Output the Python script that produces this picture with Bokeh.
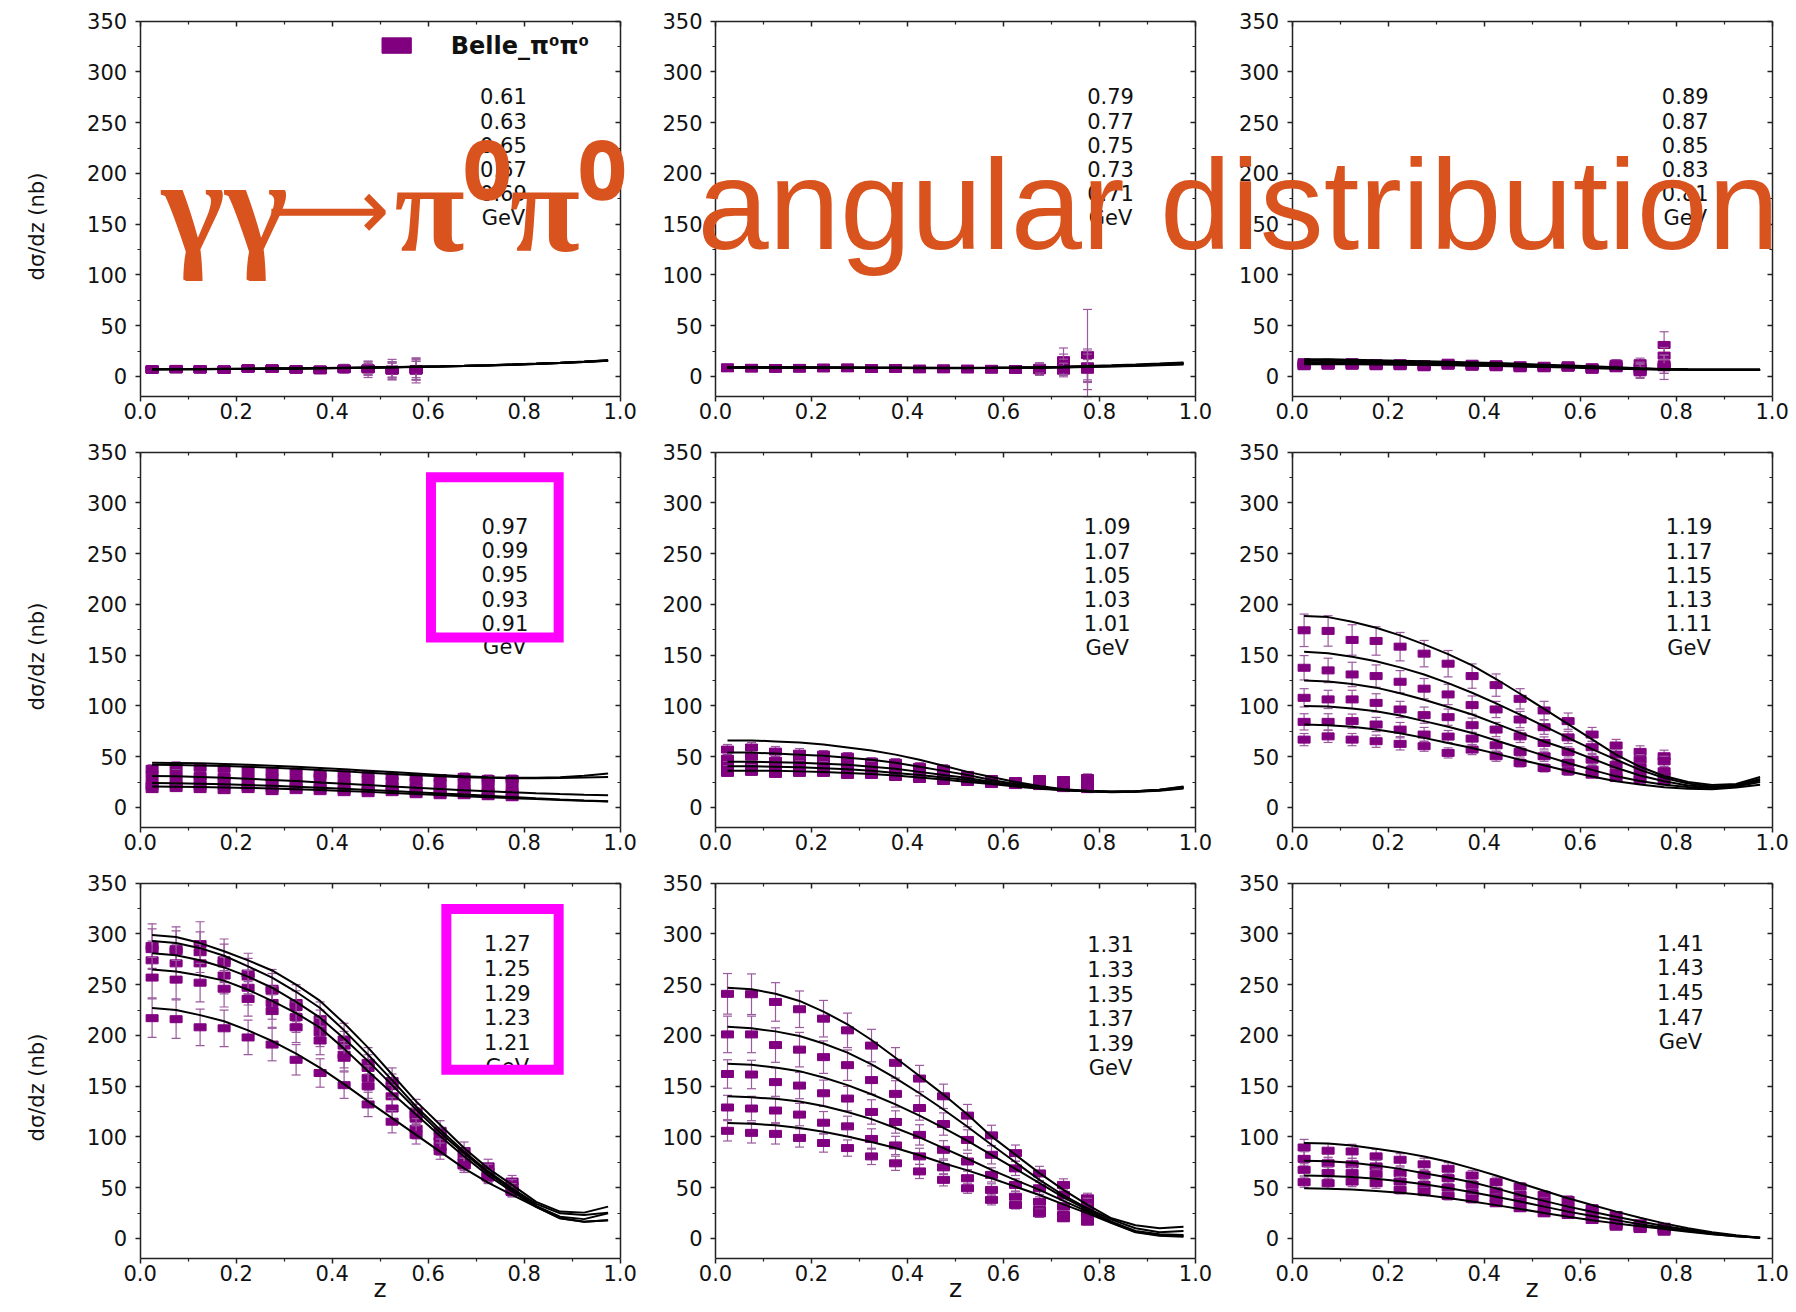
import math
import numpy as np
from bokeh.plotting import figure
from bokeh.models import Range1d, LinearAxis, FixedTicker, PrintfTickFormatter, Label
from bokeh.embed import file_html
from bokeh.resources import INLINE
from bokeh.core.properties import value

# ---------------------------------------------------------------- data
Z_DATA = [0.025, 0.075, 0.125, 0.175, 0.225, 0.275, 0.325, 0.375,
          0.425, 0.475, 0.525, 0.575, 0.625, 0.675, 0.725, 0.775]
Z_CURVE = [0.025, 0.075, 0.125, 0.175, 0.225, 0.275, 0.325, 0.375, 0.425, 0.475,
           0.525, 0.575, 0.625, 0.675, 0.725, 0.775, 0.825, 0.875, 0.925, 0.975]
X_TICKS = [0.0, 0.2, 0.4, 0.6, 0.8, 1.0]
X_MINOR = [0.1, 0.3, 0.5, 0.7, 0.9]
Y_TICKS = [0, 50, 100, 150, 200, 250, 300, 350]
Y_MINOR = [25, 75, 125, 175, 225, 275, 325]

P1_LABELS = ["0.61", "0.63", "0.65", "0.67", "0.69", "GeV"]
P2_LABELS = ["0.79", "0.77", "0.75", "0.73", "0.71", "GeV"]
P3_LABELS = ["0.89", "0.87", "0.85", "0.83", "0.81", "GeV"]
P4_LABELS = ["0.97", "0.99", "0.95", "0.93", "0.91", "GeV"]
P5_LABELS = ["1.09", "1.07", "1.05", "1.03", "1.01", "GeV"]
P6_LABELS = ["1.19", "1.17", "1.15", "1.13", "1.11", "GeV"]
P7_LABELS = ["1.27", "1.25", "1.29", "1.23", "1.21", "GeV"]
P8_LABELS = ["1.31", "1.33", "1.35", "1.37", "1.39", "GeV"]
P9_LABELS = ["1.41", "1.43", "1.45", "1.47", "GeV"]

# ---- panel 1 (0.61-0.69 GeV)
P1_DATA = [
    [6.6, 7.2, 6.9, 6.3, 7.9, 7.6, 6.6, 5.9, 7.2, 6.9, 5.6, 5.6],
    [6.9, 7.0, 7.1, 6.8, 7.5, 7.8, 7.0, 6.4, 7.6, 7.4, 6.2, 6.5],
    [7.2, 7.4, 7.3, 7.0, 8.1, 8.0, 7.2, 6.9, 7.9, 8.0, 6.8, 7.3],
    [6.4, 6.9, 6.7, 6.5, 7.7, 7.3, 6.8, 6.2, 7.0, 7.2, 5.9, 6.0],
    [7.0, 7.3, 7.0, 6.6, 7.8, 7.5, 6.9, 6.5, 7.4, 7.6, 6.4, 6.8],
]
P1_ERR = [
    [1, 1, 1, 1, 1.5, 1.5, 2, 2, 4, 8, 9, 12],
    [1, 1, 1, 1, 1.5, 1.5, 2, 2, 3, 6, 8, 10],
    [1, 1, 1, 1, 1.5, 1.5, 2, 3, 4, 7, 10, 11],
    [1, 1, 1, 1, 1.5, 1.5, 2, 2, 3, 5, 7, 9],
    [1, 1, 1, 1, 1.5, 1.5, 2, 2, 3, 5, 7, 8],
]
P1_CURVES = [
    [7.0, 7.1, 7.2, 7.3, 7.5, 7.7, 7.9, 8.1, 8.4, 8.7, 9.0, 9.4, 9.8, 10.3, 10.9, 11.6, 12.4, 13.3, 14.4, 15.6],
    [7.2, 7.3, 7.4, 7.5, 7.6, 7.8, 8.0, 8.2, 8.5, 8.8, 9.2, 9.6, 10.0, 10.5, 11.1, 11.8, 12.6, 13.5, 14.6, 15.9],
    [6.9, 7.0, 7.1, 7.2, 7.4, 7.6, 7.8, 8.0, 8.3, 8.6, 8.9, 9.3, 9.7, 10.2, 10.8, 11.4, 12.2, 13.1, 14.2, 15.4],
    [7.1, 7.2, 7.3, 7.4, 7.5, 7.7, 7.9, 8.2, 8.4, 8.7, 9.1, 9.5, 9.9, 10.4, 11.0, 11.7, 12.5, 13.4, 14.5, 15.8],
    [7.0, 7.0, 7.1, 7.3, 7.4, 7.6, 7.8, 8.1, 8.3, 8.6, 9.0, 9.3, 9.7, 10.2, 10.8, 11.5, 12.3, 13.2, 14.3, 15.5],
]

# ---- panel 2 (0.71-0.79 GeV)
P2_DATA = [
    [8.6, 8.2, 8.0, 8.2, 8.4, 8.5, 7.9, 8.0, 7.4, 7.6, 7.4, 7.2, 7.0, 8.5, 16.0, 21.0],
    [8.2, 8.0, 7.8, 7.9, 8.1, 8.2, 7.6, 7.7, 7.2, 7.2, 7.1, 6.9, 6.8, 6.0, 5.6, 7.0],
    [8.9, 8.5, 8.3, 8.4, 8.7, 8.8, 8.1, 8.3, 7.7, 7.9, 7.7, 7.5, 7.3, 7.5, 9.0, 10.0],
    [8.0, 7.8, 7.6, 7.7, 7.9, 8.0, 7.4, 7.5, 7.0, 7.0, 6.9, 6.7, 6.5, 7.0, 12.0, 8.0],
    [8.4, 8.1, 7.9, 8.0, 8.3, 8.4, 7.8, 7.9, 7.3, 7.4, 7.2, 7.1, 6.9, 7.8, 7.0, 6.6],
]
P2_ERR = [
    [1, 1, 1, 1, 1, 1, 1, 1, 1, 1, 1, 1, 2, 5, 12, 45],
    [1, 1, 1, 1, 1, 1, 1, 1, 1, 1, 1, 1, 2, 4, 6, 20],
    [1, 1, 1, 1, 1, 1, 1, 1, 1, 1, 1, 1, 2, 4, 8, 15],
    [1, 1, 1, 1, 1, 1, 1, 1, 1, 1, 1, 1, 2, 6, 10, 14],
    [1, 1, 1, 1, 1, 1, 1, 1, 1, 1, 1, 1, 2, 4, 6, 10],
]
P2_CURVES = [
    [9.2, 9.2, 9.1, 9.1, 9.0, 8.9, 8.8, 8.7, 8.6, 8.6, 8.6, 8.7, 8.9, 9.2, 9.6, 10.2, 10.9, 11.7, 12.7, 13.8],
    [9.0, 9.0, 8.9, 8.9, 8.8, 8.7, 8.6, 8.5, 8.5, 8.4, 8.4, 8.5, 8.7, 9.0, 9.4, 9.9, 10.5, 11.3, 12.2, 13.2],
    [8.8, 8.8, 8.7, 8.7, 8.6, 8.5, 8.4, 8.4, 8.3, 8.3, 8.3, 8.4, 8.5, 8.8, 9.2, 9.7, 10.3, 11.0, 11.8, 12.7],
    [8.6, 8.6, 8.6, 8.5, 8.5, 8.4, 8.3, 8.3, 8.2, 8.2, 8.2, 8.3, 8.4, 8.6, 9.0, 9.4, 10.0, 10.6, 11.4, 12.2],
    [8.5, 8.5, 8.4, 8.4, 8.3, 8.3, 8.2, 8.2, 8.1, 8.1, 8.1, 8.2, 8.3, 8.5, 8.8, 9.2, 9.7, 10.3, 11.0, 11.8],
]

# ---- panel 3 (0.81-0.89 GeV)
P3_DATA = [
    [14.0, 13.5, 14.0, 13.0, 13.0, 12.0, 13.5, 12.5, 12.0, 11.0, 10.5, 11.0, 9.0, 12.5, 13.0, 31.0],
    [12.5, 12.5, 13.0, 12.0, 12.0, 11.0, 12.5, 11.5, 11.0, 10.0, 9.5, 10.0, 8.0, 11.0, 9.0, 20.5],
    [11.5, 11.5, 12.0, 11.0, 11.0, 10.0, 11.5, 10.5, 10.0, 9.0, 9.0, 9.5, 7.5, 9.5, 7.0, 10.0],
    [10.5, 11.0, 11.0, 10.5, 10.5, 9.5, 11.0, 10.0, 9.5, 8.5, 8.5, 9.0, 7.0, 8.5, 5.0, 12.0],
    [10.0, 10.5, 10.5, 10.0, 10.0, 9.0, 10.5, 9.5, 9.0, 8.0, 8.0, 8.5, 6.5, 8.0, 4.0, 9.0],
]
P3_ERR = [
    [2, 2, 2, 2, 2, 2, 2, 2, 2, 2, 2, 2, 3, 4, 5, 13],
    [2, 2, 2, 2, 2, 2, 2, 2, 2, 2, 2, 2, 2, 3, 5, 8],
    [2, 2, 2, 2, 2, 2, 2, 2, 2, 2, 2, 2, 2, 3, 6, 7],
    [2, 2, 2, 2, 2, 2, 2, 2, 2, 2, 2, 2, 2, 3, 7, 9],
    [2, 2, 2, 2, 2, 2, 2, 2, 2, 2, 2, 2, 2, 3, 5, 12],
]
P3_CURVES = [
    [17.0, 16.8, 16.5, 16.0, 15.5, 15.0, 14.4, 13.8, 13.1, 12.4, 11.6, 10.8, 10.0, 9.0, 8.0, 7.2, 6.8, 6.6, 6.5, 6.5],
    [15.5, 15.4, 15.1, 14.7, 14.3, 13.8, 13.3, 12.7, 12.1, 11.5, 10.8, 10.1, 9.4, 8.6, 7.8, 7.1, 6.8, 6.6, 6.5, 6.5],
    [14.0, 13.9, 13.7, 13.4, 13.0, 12.6, 12.2, 11.7, 11.2, 10.7, 10.1, 9.5, 8.9, 8.2, 7.6, 7.0, 6.7, 6.6, 6.5, 6.5],
    [13.0, 12.9, 12.8, 12.5, 12.2, 11.9, 11.5, 11.1, 10.7, 10.2, 9.7, 9.2, 8.6, 8.0, 7.4, 6.9, 6.7, 6.6, 6.5, 6.5],
    [12.0, 12.0, 11.9, 11.8, 11.6, 11.3, 11.0, 10.6, 10.2, 9.7, 9.2, 8.7, 8.1, 7.5, 7.0, 6.7, 6.6, 6.5, 6.5, 6.5],
]

# ---- panel 4 (0.91-0.99 GeV)
P4_DATA = [
    [38, 40, 39, 38, 37, 35, 35, 33, 34, 33, 31, 30, 29, 30, 28, 28],
    [32, 33, 31, 30, 30, 29, 28, 30, 28, 27, 26, 25, 24, 24, 26, 25],
    [25, 26, 26, 25, 24, 24, 23, 22, 22, 20, 20, 19, 18, 18, 20, 18],
    [21, 22, 21, 21, 20, 19, 20, 19, 17, 17, 17, 15, 14, 16, 15, 14],
    [18, 19, 18, 17, 18, 16, 17, 16, 15, 14, 15, 13, 12, 12, 11, 10],
]
P4_ERR = [
    [4, 5, 4, 4, 4, 4, 4, 3, 3, 3, 3, 3, 3, 4, 4, 4],
    [3, 4, 3, 3, 3, 3, 3, 3, 3, 3, 3, 3, 3, 3, 4, 4],
    [3, 3, 3, 3, 3, 3, 3, 3, 3, 3, 3, 3, 3, 3, 3, 3],
    [3, 3, 3, 3, 3, 3, 3, 3, 3, 3, 2, 2, 2, 3, 3, 3],
    [3, 3, 3, 3, 3, 3, 2, 2, 2, 2, 2, 2, 2, 2, 3, 3],
]
P4_CURVES = [
    [44, 43.8, 43.4, 42.8, 42, 41, 40, 38.8, 37.5, 36.2, 34.8, 33.4, 32, 30.8, 29.8, 29.2, 29.2, 29.8, 31.2, 33.4],
    [42, 41.8, 41.4, 40.8, 40, 39, 38, 36.8, 35.5, 34.2, 32.9, 31.7, 30.6, 29.7, 29.1, 28.8, 28.8, 29, 29.4, 30],
    [31, 30.6, 30, 29.2, 28.2, 27.1, 25.9, 24.6, 23.3, 22, 20.7, 19.4, 18.2, 17, 15.9, 14.9, 14, 13.2, 12.5, 12],
    [24, 23.8, 23.4, 22.8, 22.1, 21.3, 20.4, 19.4, 18.3, 17.2, 16.1, 15, 13.8, 12.6, 11.4, 10.2, 9, 7.9, 6.9, 6],
    [20.5, 20.4, 20.1, 19.7, 19.2, 18.6, 17.9, 17.1, 16.2, 15.3, 14.3, 13.3, 12.2, 11.1, 10.1, 9.1, 8.2, 7.3, 6.5, 5.8],
]

# ---- panel 5 (1.01-1.09 GeV)
P5_DATA = [
    [57, 59, 55, 53, 52, 50, 45, 44, 40, 38, 32, 28, 26, 28, 27, 29],
    [48, 50, 46, 47, 46, 44, 41, 40, 37, 35, 30, 26, 25, 26, 25, 26],
    [41, 42, 41, 42, 41, 40, 37, 36, 34, 31, 28, 25, 24, 24, 23, 23],
    [37, 38, 36, 38, 37, 35, 34, 32, 30, 28, 27, 24, 23, 22, 21, 20],
    [34, 35, 33, 34, 34, 32, 32, 30, 28, 26, 25, 23, 22, 21, 19, 18],
]
P5_ERR = [
    [5, 5, 5, 5, 4, 4, 4, 4, 4, 4, 3, 3, 3, 3, 3, 4],
    [4, 4, 4, 4, 4, 4, 4, 3, 3, 3, 3, 3, 3, 3, 3, 3],
    [4, 4, 4, 4, 4, 3, 3, 3, 3, 3, 3, 3, 3, 3, 3, 3],
    [4, 4, 3, 3, 3, 3, 3, 3, 3, 3, 3, 2, 2, 2, 2, 2],
    [3, 3, 3, 3, 3, 3, 3, 3, 3, 3, 2, 2, 2, 2, 2, 2],
]
P5_CURVES = [
    [66, 66, 65, 64, 62, 59, 56, 52, 47, 41, 35, 30, 25, 21, 18, 16.5, 15.5, 16, 17.5, 20.5],
    [54, 54, 53, 52, 51, 49, 47, 44, 40, 36, 32, 27, 23, 20, 17.5, 16, 15.5, 16, 17.5, 20],
    [45, 45, 44.5, 44, 43, 42, 40, 38, 35, 32, 29, 25, 22, 19.5, 17.5, 16, 15.5, 16, 17, 19.5],
    [40.5, 40.5, 40, 39.5, 38.5, 37.5, 36, 34, 32, 29.5, 27, 24, 21, 19, 17, 16, 15.5, 15.5, 17, 19],
    [36, 36, 36, 35.5, 35, 34, 33, 31.5, 29.5, 27.5, 25, 23, 20.5, 18.5, 17, 16, 15, 15.5, 16.5, 18.5],
]

# ---- panel 6 (1.11-1.19 GeV)
P6_DATA = [
    [174.5, 173.9, 165, 164, 158.4, 151.5, 141.6, 129.4, 120.5, 107, 95.5, 85, 71.8, 61, 54.7, 50.4],
    [137.6, 135, 131, 129.4, 123.8, 117, 111.3, 100.8, 96.5, 86.6, 79, 69, 59.3, 52, 47, 45.4],
    [108, 106.4, 106.4, 103, 96.5, 90.9, 88.9, 81, 76.7, 70, 63.5, 54.7, 47, 42, 39.5, 35.6],
    [84.3, 84.3, 85, 81.7, 76.7, 71.8, 69.8, 67.8, 61.2, 54.7, 50.4, 43.8, 37.2, 34, 32.3, 30.6],
    [66.8, 70, 66.8, 65.2, 62.6, 60.3, 53.7, 57, 50.4, 43.8, 38.9, 35.6, 32.3, 29, 27.3, 25.7],
]
P6_ERR = [
    [16, 15, 15, 14, 14, 13, 13, 12, 11, 10, 9, 8, 7, 6, 6, 6],
    [12, 12, 12, 11, 11, 10, 10, 9, 8, 8, 7, 6, 6, 5, 5, 5],
    [9, 9, 9, 9, 8, 8, 8, 7, 7, 6, 6, 5, 5, 4, 4, 4],
    [8, 8, 7, 7, 7, 7, 6, 6, 6, 5, 5, 4, 4, 4, 3, 3],
    [6, 6, 6, 6, 6, 5, 5, 5, 5, 4, 4, 4, 3, 3, 3, 3],
]
P6_CURVES = [
    [188.7, 187.5, 183, 177, 169.5, 160.7, 151, 140, 126.5, 112, 97, 82, 67, 52, 40, 31, 25, 22, 23, 30],
    [153.4, 152, 148.5, 144, 138, 131, 122.5, 113, 102.5, 91.5, 80, 68.5, 57.5, 47, 37, 29, 23.5, 20.7, 22, 28],
    [125, 124, 121.5, 118, 112.5, 106, 99, 91.5, 82.5, 73.4, 65, 57, 48, 39, 31.5, 25.7, 21.5, 19.8, 21, 26.5],
    [100, 99.5, 97.5, 94.8, 90.5, 85, 79.5, 73.4, 66, 58.6, 51, 43.8, 37, 30.6, 26, 22.4, 20, 19, 20.5, 25],
    [81.7, 81, 79.5, 76.7, 73, 68.5, 63.5, 58.6, 53, 47, 41.5, 35.6, 30.5, 25.7, 22.5, 19.8, 18.5, 18, 19.5, 22.4],
]

# ---- panel 7 (1.21-1.29 GeV)
P7_DATA = [
    [288, 285, 290, 274, 261, 246, 232, 216, 196, 173, 155, 125, 106, 86, 71, 56],
    [285, 283, 282, 271, 258, 244, 228, 210, 190, 168, 150, 122, 100, 80, 66, 52],
    [274, 271, 271, 259, 247, 232, 218, 203, 181, 158, 140, 118, 96, 75, 62, 48],
    [257, 255, 252, 246, 236, 224, 208, 195, 178, 150, 128, 108, 90, 72, 60, 46],
    [217, 216, 208, 207, 198, 191, 176, 163, 151, 132, 115, 102, 86, 72, 61, 46],
]
P7_ERR = [
    [22, 22, 22, 21, 20, 19, 18, 17, 16, 15, 13, 12, 10, 9, 7, 6],
    [20, 20, 20, 19, 18, 17, 16, 15, 14, 13, 12, 10, 9, 8, 7, 6],
    [19, 19, 19, 18, 17, 16, 15, 14, 13, 12, 11, 10, 9, 8, 6, 6],
    [20, 19, 19, 18, 17, 16, 15, 14, 13, 12, 11, 10, 8, 7, 6, 5],
    [19, 19, 18, 18, 17, 16, 15, 14, 13, 12, 11, 9, 8, 7, 6, 5],
]
P7_CURVES = [
    [299, 297, 291, 283, 274, 264, 250, 234, 212, 188, 161.5, 135, 112, 89, 69, 52.7, 36, 26.4, 25.4, 31.3],
    [293, 291, 286, 278.5, 268, 257, 243, 227, 205, 181, 156, 130, 107, 85.7, 66, 49.4, 34, 24.7, 23, 25.4],
    [281, 279, 274, 267, 258, 247, 233, 217.5, 197, 174.7, 151, 127, 104, 84, 64.5, 47.8, 32, 21.4, 19, 24.7],
    [265, 263, 259, 254, 245, 234, 222, 207.6, 187, 164.8, 143, 122, 101, 80.8, 62, 46, 31, 19.8, 16.5, 18],
    [227, 225, 220, 214, 205, 194.5, 182, 168, 152, 135, 118.5, 102, 85.5, 69, 55, 42.8, 31, 19.8, 16.5, 18],
]

# ---- panel 8 (1.31-1.39 GeV)
P8_DATA = [
    [241, 240.6, 233, 225.8, 216.5, 205, 190, 173, 157.5, 140, 121, 101.5, 84, 64, 52.7, 39.5],
    [201, 201, 190.5, 186, 178.6, 170.7, 156, 142.4, 128.5, 112.7, 97, 82.4, 69, 49.4, 42.8, 34.6],
    [162, 161.5, 154, 150.6, 143, 137.8, 124.6, 114.7, 102, 87.3, 75.8, 62.6, 52.7, 36, 31.3, 29.7],
    [129, 128, 126, 122, 114, 110.4, 98, 91.6, 80.8, 70, 59.3, 47.8, 41, 28, 23, 23.7],
    [106, 104, 103, 99, 94, 89, 80.8, 74, 66, 57.7, 49.4, 38, 33, 24.7, 19.8, 16.5],
]
P8_ERR = [
    [20, 20, 19, 18, 18, 17, 16, 15, 13, 12, 11, 10, 8, 7, 6, 5],
    [18, 18, 17, 17, 16, 15, 14, 13, 12, 11, 10, 9, 7, 6, 5, 5],
    [14, 14, 14, 13, 13, 12, 12, 11, 10, 9, 8, 7, 6, 5, 4, 4],
    [12, 12, 12, 11, 11, 10, 10, 9, 8, 7, 7, 6, 5, 4, 4, 3],
    [10, 10, 10, 9, 9, 8, 8, 7, 7, 6, 5, 5, 4, 4, 3, 3],
]
P8_CURVES = [
    [247, 245.6, 241, 234, 223.5, 211, 195.5, 178, 160, 141.7, 122, 100.5, 82.4, 64.3, 47.8, 33, 19.8, 13, 10, 11.5],
    [208.6, 207, 204, 199.4, 192, 183, 171.5, 158, 143, 127, 110, 92.3, 75, 57.7, 42.5, 29.7, 18.5, 10, 6, 7.3],
    [172, 171, 168.5, 164.8, 158.5, 151, 142, 132, 121, 108.8, 96, 82.4, 68.5, 54.4, 40.5, 28, 16.5, 7.3, 4, 3.3],
    [140, 139, 137.5, 135, 130.5, 124.6, 117.5, 108.8, 99.5, 89, 78.5, 67.6, 57.5, 47.8, 37, 26.4, 15.5, 6.6, 3, 2.3],
    [113.7, 113, 111.5, 108.8, 105, 100.5, 95, 89, 82, 74, 67, 59.3, 51, 42.8, 33.5, 24.7, 15, 6, 2.5, 1.6],
]

# ---- panel 9 (1.41-1.47 GeV)
P9_DATA = [
    [89.6, 86.4, 85.7, 80.8, 77.5, 73, 68.6, 62, 55.4, 51, 42.8, 37.9, 29.7, 23, 14.8, 11.5],
    [78.4, 74, 73, 70.9, 64.3, 62.6, 59.3, 52.7, 46.1, 42.8, 36.3, 31.3, 26.4, 18.1, 11.5, 9.9],
    [67.6, 64.3, 64.3, 63.3, 56, 52.7, 50, 44.5, 39.5, 36.3, 29.7, 26.4, 21.4, 13.2, 9.9, 8.2],
    [55.4, 54.4, 56, 54.4, 47.8, 46.1, 41.9, 38.9, 34.6, 29.7, 24.7, 23, 18.1, 11.5, 9.2, 6.6],
]
P9_ERR = [
    [8, 7, 7, 7, 6, 6, 6, 5, 5, 4, 4, 4, 3, 3, 3, 2],
    [7, 6, 6, 6, 6, 5, 5, 5, 4, 4, 4, 3, 3, 3, 2, 2],
    [6, 6, 6, 5, 5, 5, 4, 4, 4, 4, 3, 3, 3, 2, 2, 2],
    [5, 5, 5, 5, 4, 4, 4, 4, 3, 3, 3, 3, 2, 2, 2, 2],
]
P9_CURVES = [
    [94, 93.5, 91.5, 88.3, 85, 80.8, 75.5, 69, 62, 54.4, 47, 39.5, 33, 26.4, 20.3, 14.8, 10, 6, 3, 0.7],
    [76.5, 76, 74.5, 71.9, 68.5, 64.3, 60, 55.4, 49.3, 42.8, 37, 31.3, 26.3, 21.4, 16.6, 12.2, 8.5, 5, 2.5, 0.7],
    [62, 61.5, 60.5, 58.7, 56.3, 53.4, 49.7, 45.5, 41, 36.3, 31.3, 26.4, 22, 18, 14, 10.5, 7.2, 4.3, 2.2, 0.7],
    [49.4, 49, 48.2, 46.8, 45, 42.8, 39.8, 36.3, 32.8, 29, 25.1, 21.4, 18, 14.8, 11.9, 9.2, 6.5, 4, 2, 0.7],
]

TITLE_GG = "γγ"
TITLE_ARROW = "⟶"
TITLE_PIPI = "π⁰π⁰"
TITLE_RIGHT = "angular distribution"
LEGEND_TEXT = "Belle_π⁰π⁰"
Y_LABEL = "dσ/dz (nb)"
X_LABEL = "z"

ALL_DATA = [P1_DATA, P2_DATA, P3_DATA, P4_DATA, P5_DATA, P6_DATA, P7_DATA, P8_DATA, P9_DATA]
ALL_ERR = [P1_ERR, P2_ERR, P3_ERR, P4_ERR, P5_ERR, P6_ERR, P7_ERR, P8_ERR, P9_ERR]
ALL_CURVES = [P1_CURVES, P2_CURVES, P3_CURVES, P4_CURVES, P5_CURVES, P6_CURVES, P7_CURVES, P8_CURVES, P9_CURVES]
ALL_LABELS = [P1_LABELS, P2_LABELS, P3_LABELS, P4_LABELS, P5_LABELS, P6_LABELS, P7_LABELS, P8_LABELS, P9_LABELS]

# ---------------------------------------------------------------- layout / style
FIG_W, FIG_H = 1794, 1310
PANEL_LEFT = [139.6, 715.0, 1291.6]
PANEL_TOP = [20.7, 451.7, 882.7]
PANEL_W = 480.0
PANEL_H = 375.5
Y_MIN, Y_MAX = -20, 350
LABEL_X = [0.757, 0.823, 0.819, 0.760, 0.816, 0.827, 0.765, 0.823, 0.809]
LABEL_Y0 = [276, 276, 276, 277.5, 277, 277, 291, 290, 291.5]
LABEL_DY = [23.9, 23.9, 23.9, 23.9, 23.9, 23.9, 24.4, 24.4, 24.4]

ORANGE = "#D9531E"
MAGENTA = "#FF00FF"
MARK = "#800080"
ERRC = "#9B5A9E"
INK = "#111111"
AXC = "#222222"

p = figure(width=FIG_W, height=FIG_H,
           x_range=Range1d(0, FIG_W), y_range=Range1d(FIG_H, 0),
           x_axis_type=None, y_axis_type=None,
           output_backend="svg", toolbar_location=None,
           min_border=0, min_border_left=0, min_border_right=0,
           min_border_top=0, min_border_bottom=0)
p.outline_line_color = None
p.background_fill_color = "white"
p.border_fill_color = "white"

kk = (Y_MAX - Y_MIN) / PANEL_H
p.extra_x_ranges = {f"x{c}": Range1d(-PANEL_LEFT[c] / PANEL_W, (FIG_W - PANEL_LEFT[c]) / PANEL_W)
                    for c in range(3)}
p.extra_y_ranges = {f"y{r}": Range1d(Y_MAX - (FIG_H - PANEL_TOP[r]) * kk, Y_MAX + PANEL_TOP[r] * kk)
                    for r in range(3)}


def axis_style(labelled):
    d = dict(axis_line_color=AXC, axis_line_width=1.5,
             major_tick_line_color=AXC, major_tick_line_width=1.5,
             minor_tick_line_color=AXC, minor_tick_line_width=1.2,
             major_label_text_font="DejaVu Sans", major_label_text_font_size="21px",
             major_label_text_color=INK if labelled else None)
    if labelled:
        d.update(major_tick_out=5, major_tick_in=0, minor_tick_out=3, minor_tick_in=0)
    else:
        d.update(major_tick_out=0, major_tick_in=5, minor_tick_out=0, minor_tick_in=3)
    return d


for k in range(9):
    r, c = divmod(k, 3)
    kw = dict(x_range_name=f"x{c}", y_range_name=f"y{r}")

    # data points with error bars
    for vals, errs in zip(ALL_DATA[k], ALL_ERR[k]):
        n = len(vals)
        z = np.array(Z_DATA[:n])
        v = np.array(vals, dtype=float)
        e = np.array(errs, dtype=float)
        lo = np.maximum(v - e, Y_MIN)
        hi = np.minimum(v + e, Y_MAX)
        p.segment(z, lo, z, hi, line_color=ERRC, line_width=1.2, **kw)
        p.scatter(np.concatenate([z, z]), np.concatenate([lo, hi]), marker="dash", size=9,
                  line_color=ERRC, line_width=1.2, **kw)
        p.rect(z, v, width=12, height=7, width_units="screen", height_units="screen",
               fill_color=MARK, line_color=MARK, **kw)

    # model curves
    for cv in ALL_CURVES[k]:
        p.line(Z_CURVE, cv, line_color="black", line_width=2, **kw)

    # energy labels
    labs = ALL_LABELS[k]
    p.text(x=[LABEL_X[k]] * len(labs), y=[LABEL_Y0[k] - i * LABEL_DY[k] for i in range(len(labs))],
           text=labs, text_font=value("DejaVu Sans"), text_font_size="21px",
           text_align="center", text_baseline="middle", text_color=INK, **kw)

    # axes (frame on all four sides)
    xb = LinearAxis(fixed_location=Y_MIN, bounds=(0, 1),
                    ticker=FixedTicker(ticks=X_TICKS, minor_ticks=X_MINOR),
                    formatter=PrintfTickFormatter(format="%.1f"),
                    major_label_standoff=1, **kw, **axis_style(True))
    p.add_layout(xb, "below")
    xa = LinearAxis(fixed_location=Y_MAX, bounds=(0, 1),
                    ticker=FixedTicker(ticks=X_TICKS, minor_ticks=X_MINOR),
                    **kw, **axis_style(False))
    p.add_layout(xa, "above")
    yl = LinearAxis(fixed_location=0, bounds=(Y_MIN, Y_MAX),
                    ticker=FixedTicker(ticks=Y_TICKS, minor_ticks=Y_MINOR),
                    formatter=PrintfTickFormatter(format="%d"),
                    major_label_standoff=8, **kw, **axis_style(True))
    p.add_layout(yl, "left")
    yr_ = LinearAxis(fixed_location=1, bounds=(Y_MIN, Y_MAX),
                     ticker=FixedTicker(ticks=Y_TICKS, minor_ticks=Y_MINOR),
                     **kw, **axis_style(False))
    p.add_layout(yr_, "right")

# magenta highlight boxes (panels 4 and 7)
p.quad(left=[0.606], right=[0.872], bottom=[167.3], top=[325.3], fill_color=None,
       line_color=MAGENTA, line_width=10, line_join="miter", x_range_name="x0", y_range_name="y1")
p.quad(left=[0.638], right=[0.872], bottom=[166.1], top=[324.7], fill_color=None,
       line_color=MAGENTA, line_width=10, line_join="miter", x_range_name="x0", y_range_name="y2")

# legend of panel 1
p.quad(left=[0.504], right=[0.565], bottom=[318.4], top=[333.6], fill_color=MARK, line_color=MARK,
       x_range_name="x0", y_range_name="y0")
p.text(x=[0.647], y=[326], text=[LEGEND_TEXT], text_font=value("DejaVu Sans"), text_font_style="bold",
       text_font_size="24px", text_align="left", text_baseline="middle", text_color=INK,
       x_range_name="x0", y_range_name="y0")

# axis titles
for yc in [226, 656, 1087]:
    p.add_layout(Label(x=36, y=yc, text=Y_LABEL, angle=math.pi / 2, text_align="center",
                       text_baseline="middle", text_font="DejaVu Sans", text_font_size="21px",
                       text_color=INK))
for c in range(3):
    p.add_layout(Label(x=PANEL_LEFT[c] + PANEL_W / 2, y=1288, text=X_LABEL, text_align="center",
                       text_baseline="alphabetic", text_font="DejaVu Sans", text_font_size="25px",
                       text_color=INK))

# overlaid orange title
p.add_layout(Label(x=161, y=206, text=TITLE_GG, text_align="left", text_baseline="alphabetic",
                   text_font="Liberation Serif", text_font_style="bold", text_font_size="135px",
                   text_color=ORANGE))
p.add_layout(Label(x=266, y=208, text=TITLE_ARROW, text_align="left", text_baseline="alphabetic",
                   text_font="DejaVu Sans", text_font_size="86px", text_color=ORANGE))
p.add_layout(Label(x=394, y=207, text=TITLE_PIPI, text_align="left", text_baseline="alphabetic",
                   text_font="Liberation Serif", text_font_style="bold", text_font_size="128px",
                   text_color=ORANGE))
p.add_layout(Label(x=697, y=204, text=TITLE_RIGHT, text_align="left", text_baseline="alphabetic",
                   text_font="Liberation Sans", text_font_size="128px", text_color=ORANGE))

open("out.html", "w").write(file_html(p, INLINE))
